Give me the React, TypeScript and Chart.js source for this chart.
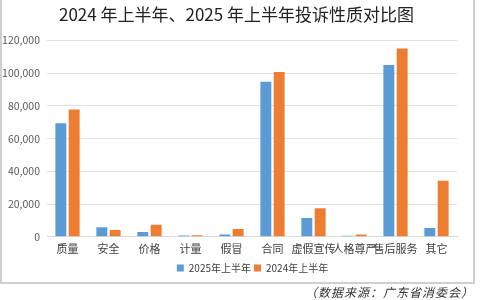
import React, { useEffect, useRef } from "react";
import { Chart, registerables } from "chart.js";

Chart.register(...registerables);

const categories = ["质量", "安全", "价格", "计量", "假冒", "合同", "虚假宣传", "人格尊严", "售后服务", "其它"];
const series2025 = [69400, 5900, 3000, 800, 1400, 94700, 11500, 600, 104900, 5400];
const series2024 = [77800, 4200, 7400, 900, 4800, 100700, 17500, 1400, 115000, 34200];
const seriesNames = ["2025年上半年", "2024年上半年"];
const titleText = "2024 年上半年、2025 年上半年投诉性质对比图";
const sourceText = "（数据来源：广东省消委会）";

const FONT = "'Noto Sans CJK SC', 'Noto Sans', sans-serif";

const blockShift = {
  id: "blockShift",
  afterLayout(chart: any) {
    const lg = chart.legend;
    if (lg) {
      lg.left += 24;
      lg.right += 24;
    }
    const tb = chart.titleBlock;
    if (tb) {
      tb.left += 8;
      tb.right += 8;
    }
  },
};

export default function App() {
  const ref = useRef<HTMLCanvasElement>(null);
  useEffect(() => {
    if (!ref.current) return;
    const chart = new Chart(ref.current, {
      type: "bar",
      data: {
        labels: categories,
        datasets: [
          { label: seriesNames[0], data: series2025, backgroundColor: "#5B9BD5", categoryPercentage: 0.65, barPercentage: 0.82 },
          { label: seriesNames[1], data: series2024, backgroundColor: "#ED7D31", categoryPercentage: 0.65, barPercentage: 0.82 },
        ],
      },
      options: {
        animation: false,
        responsive: false,
        maintainAspectRatio: false,
        layout: { padding: { left: 0, right: 23, top: 4, bottom: 17 } },
        plugins: {
          title: {
            display: true,
            text: titleText,
            color: "#222",
            font: { family: FONT, size: 17, weight: "normal" },
            padding: { top: 0, bottom: 16 },
          },
          legend: {
            position: "bottom",
            labels: {
              boxWidth: 7,
              boxHeight: 7,
              padding: 3,
              color: "#404040",
              font: { family: FONT, size: 10 },
            },
          },
          tooltip: { enabled: false },
        },
        scales: {
          x: {
            grid: { display: false, drawTicks: false, tickLength: 0 },
            border: { color: "#d9d9d9" },
            ticks: { color: "#404040", font: { family: FONT, size: 11 }, maxRotation: 0, autoSkip: false, padding: 5 },
          },
          y: {
            min: 0,
            max: 120000,
            afterFit: (s: any) => {
              s.width = 47;
            },
            ticks: {
              stepSize: 20000,
              color: "#595959",
              font: { family: FONT, size: 10.5 },
              padding: 7,
              callback: (v: any) => Number(v).toLocaleString("en-US"),
            },
            grid: { color: "#e0e0e0", tickLength: 0 },
            border: { display: false },
          },
        },
      },
      plugins: [blockShift],
    });
    return () => chart.destroy();
  }, []);

  return (
    <div style={{ position: "fixed", left: 0, top: 0, width: 480, height: 300, background: "#fff", overflow: "hidden" }}>
      <canvas ref={ref} width={480} height={300} style={{ position: "absolute", left: 0, top: 0 }} />
      <div
        style={{
          position: "absolute",
          left: 0,
          top: -2,
          width: 471,
          height: 282,
          border: "2px solid #cfcfcf",
          pointerEvents: "none",
        }}
      />
      <div
        style={{
          position: "absolute",
          right: 6,
          top: 284,
          fontFamily: FONT,
          fontSize: 12,
          fontStyle: "italic",
          letterSpacing: 1,
          color: "#333",
          lineHeight: "16px",
        }}
      >
        {sourceText}
      </div>
    </div>
  );
}
